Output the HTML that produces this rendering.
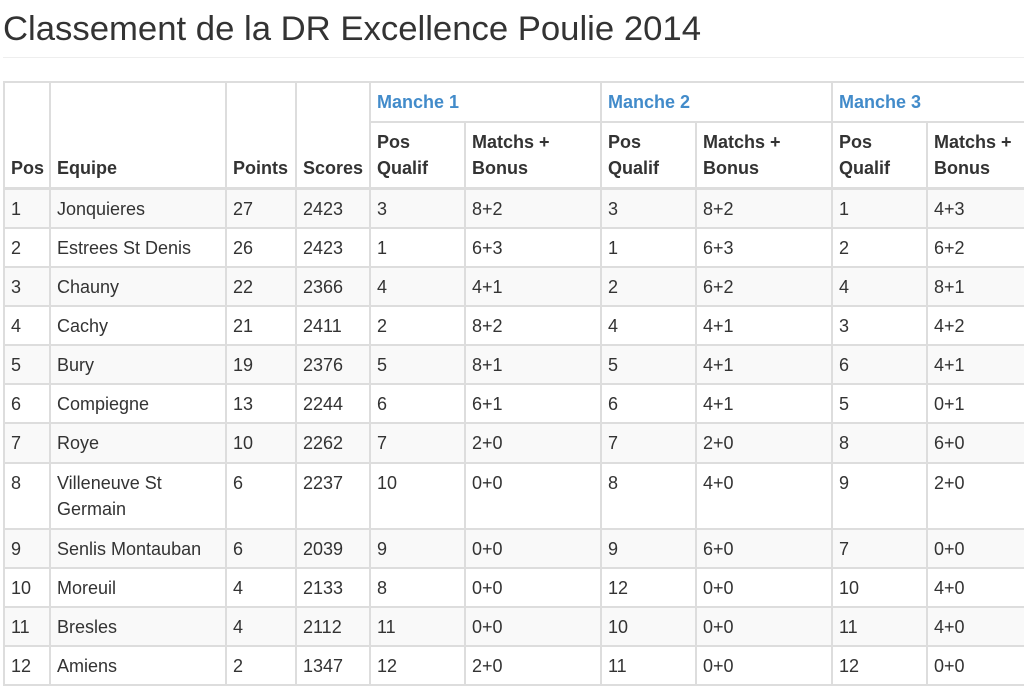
<!DOCTYPE html>
<html><head><meta charset="utf-8"><style>
body{margin:0;background:#fff;font-family:"Liberation Sans",Arial,sans-serif;color:#333;width:1024px;height:691px;overflow:hidden;position:relative}
h1{position:absolute;left:3px;top:7px;margin:0;font-size:34.7px;font-weight:normal;line-height:44px;color:#333;white-space:nowrap}
.hr{position:absolute;left:3px;top:57px;width:1021px;height:1px;background:#eee}
table{position:absolute;left:3px;top:81px;border-collapse:collapse;table-layout:fixed;width:1059px;font-size:18px;line-height:26px}
td,th{border:2px solid #ddd;padding:6px 6px 5px 6px;text-align:left;vertical-align:top}
th{font-weight:bold;vertical-align:bottom}
thead tr:first-child th{padding-bottom:6px}
thead tr:last-child th, thead th[rowspan]{border-bottom:3px solid #ddd;padding-bottom:6px}
th.m{color:#428bca;vertical-align:top}
tbody tr:nth-child(odd) td{background:#f9f9f9}
tr.x td{padding-bottom:6px}
</style></head><body>
<h1>Classement de la DR Excellence Poulie 2014</h1>
<div class="hr"></div>
<table>
<colgroup><col style="width:46px"><col style="width:176px"><col style="width:70px"><col style="width:74px"><col style="width:95px"><col style="width:136px"><col style="width:95px"><col style="width:136px"><col style="width:95px"><col style="width:136px"></colgroup>
<thead>
<tr><th rowspan="2">Pos</th><th rowspan="2">Equipe</th><th rowspan="2">Points</th><th rowspan="2">Scores</th><th class="m" colspan="2">Manche 1</th><th class="m" colspan="2">Manche 2</th><th class="m" colspan="2">Manche 3</th></tr>
<tr><th>Pos Qualif</th><th>Matchs + Bonus</th><th>Pos Qualif</th><th>Matchs + Bonus</th><th>Pos Qualif</th><th>Matchs + Bonus</th></tr>
</thead>
<tbody>
<tr><td>1</td><td>Jonquieres</td><td>27</td><td>2423</td><td>3</td><td>8+2</td><td>3</td><td>8+2</td><td>1</td><td>4+3</td></tr>
<tr><td>2</td><td>Estrees St Denis</td><td>26</td><td>2423</td><td>1</td><td>6+3</td><td>1</td><td>6+3</td><td>2</td><td>6+2</td></tr>
<tr><td>3</td><td>Chauny</td><td>22</td><td>2366</td><td>4</td><td>4+1</td><td>2</td><td>6+2</td><td>4</td><td>8+1</td></tr>
<tr><td>4</td><td>Cachy</td><td>21</td><td>2411</td><td>2</td><td>8+2</td><td>4</td><td>4+1</td><td>3</td><td>4+2</td></tr>
<tr><td>5</td><td>Bury</td><td>19</td><td>2376</td><td>5</td><td>8+1</td><td>5</td><td>4+1</td><td>6</td><td>4+1</td></tr>
<tr><td>6</td><td>Compiegne</td><td>13</td><td>2244</td><td>6</td><td>6+1</td><td>6</td><td>4+1</td><td>5</td><td>0+1</td></tr>
<tr class="x"><td>7</td><td>Roye</td><td>10</td><td>2262</td><td>7</td><td>2+0</td><td>7</td><td>2+0</td><td>8</td><td>6+0</td></tr>
<tr class="x"><td>8</td><td>Villeneuve St Germain</td><td>6</td><td>2237</td><td>10</td><td>0+0</td><td>8</td><td>4+0</td><td>9</td><td>2+0</td></tr>
<tr><td>9</td><td>Senlis Montauban</td><td>6</td><td>2039</td><td>9</td><td>0+0</td><td>9</td><td>6+0</td><td>7</td><td>0+0</td></tr>
<tr><td>10</td><td>Moreuil</td><td>4</td><td>2133</td><td>8</td><td>0+0</td><td>12</td><td>0+0</td><td>10</td><td>4+0</td></tr>
<tr><td>11</td><td>Bresles</td><td>4</td><td>2112</td><td>11</td><td>0+0</td><td>10</td><td>0+0</td><td>11</td><td>4+0</td></tr>
<tr><td>12</td><td>Amiens</td><td>2</td><td>1347</td><td>12</td><td>2+0</td><td>11</td><td>0+0</td><td>12</td><td>0+0</td></tr>
</tbody>
</table>
</body></html>
